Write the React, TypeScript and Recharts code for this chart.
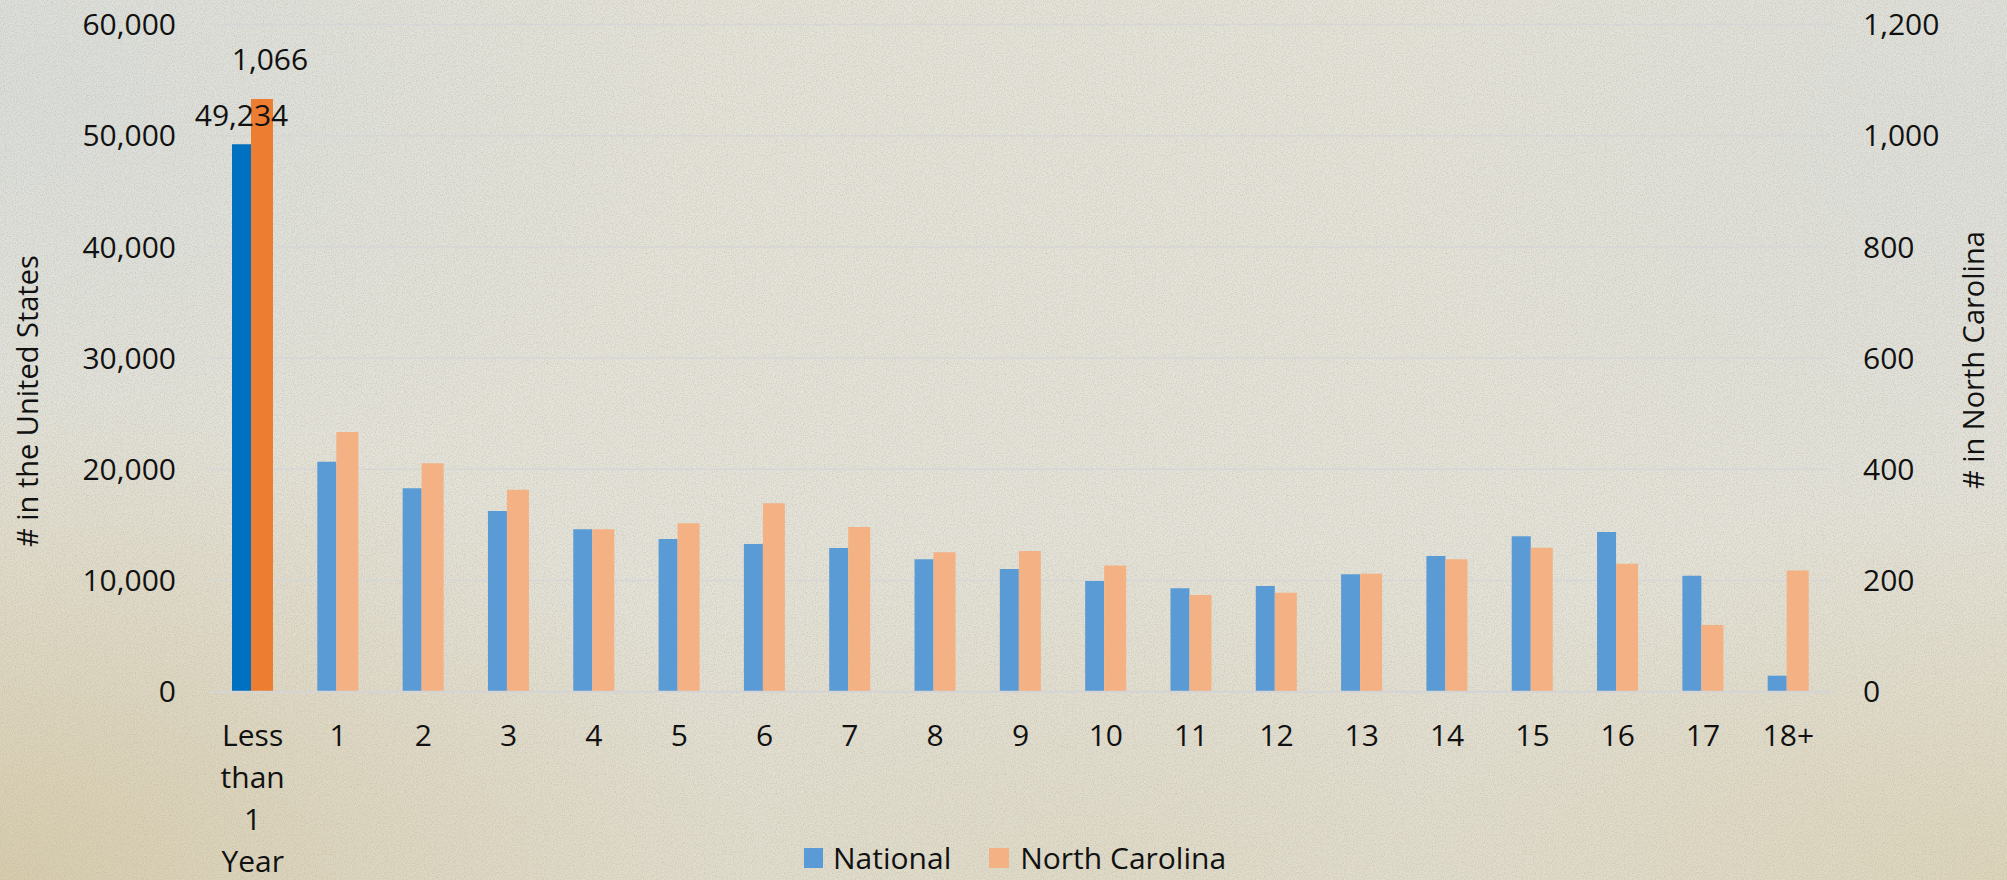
import React from 'react';
import {
  BarChart,
  Bar,
  XAxis,
  YAxis,
  CartesianGrid,
  Legend,
  LabelList,
  Cell,
} from 'recharts';

// Years of age categories
const categories = [
  'Less than 1 Year', '1', '2', '3', '4', '5', '6', '7', '8', '9',
  '10', '11', '12', '13', '14', '15', '16', '17', '18+',
];

// Children in foster care by age — United States (left axis)
const national = [
  49234, 20680, 18290, 16250, 14600, 13730, 13280, 12920, 11900, 11030,
  9950, 9300, 9500, 10560, 12200, 13970, 14360, 10430, 1440,
];

// Children in foster care by age — North Carolina (right axis)
const northCarolina = [
  1066, 467, 411, 363, 292, 303, 339, 296, 251, 253,
  227, 174, 178, 212, 238, 259, 230, 120, 218,
];

const leftTicks = [0, 10000, 20000, 30000, 40000, 50000, 60000];
const rightTicks = [0, 200, 400, 600, 800, 1000, 1200];

const seriesNames = { national: 'National', nc: 'North Carolina' };

const COLORS = {
  nationalHighlight: '#0070C0',
  ncHighlight: '#ED7D31',
  national: '#5B9BD5',
  nc: '#F4B183',
};

const FONT = "'Open Sans', 'Noto Sans', sans-serif";
const TEXT = '#111111';
const W = 2007;
const H = 880;

const data = categories.map((age, i) => ({
  age,
  national: national[i],
  nc: northCarolina[i],
}));

const fmt = (v: number) => v.toLocaleString('en-US');

// Fine paper grain laid over the background tint
const grain =
  "url(\"data:image/svg+xml;utf8," +
  "<svg xmlns='http://www.w3.org/2000/svg' width='400' height='400'>" +
  "<filter id='n'><feTurbulence type='fractalNoise' baseFrequency='0.9' numOctaves='2' stitchTiles='stitch'/>" +
  "<feColorMatrix values='0 0 0 0 0.45  0 0 0 0 0.40  0 0 0 0 0.30  0 0 0 0.9 -0.35'/></filter>" +
  "<rect width='400' height='400' filter='url(%23n)'/></svg>\")";

// Category tick: wraps the long first label one word per line
const AgeTick = (props: any) => {
  const { x, y, payload } = props;
  const words = String(payload.value).split(' ');
  return (
    <text
      x={x}
      y={y}
      textAnchor="middle"
      fontFamily={FONT}
      fontSize={30}
      fill={TEXT}
    >
      {words.map((w, i) => (
        <tspan key={i} x={x} dy={i === 0 ? 46 : 42}>
          {w}
        </tspan>
      ))}
    </text>
  );
};

const makeTitle = (text: string, dxFromAxis: number, dyFromCenter: number) =>
  (props: any) => {
    const vb = props.viewBox || {};
    const x = vb.x + dxFromAxis;
    const y = vb.y + vb.height / 2 + dyFromCenter;
    return (
      <text
        x={x}
        y={y}
        transform={`rotate(-90 ${x} ${y})`}
        textAnchor="middle"
        dominantBaseline="central"
        fontFamily={FONT}
        fontSize={29}
        fill={TEXT}
      >
        {text}
      </text>
    );
  };

// Value labels shown only on the first age group
const makeValueLabel = (lift: number, shift: number) => (props: any) => {
  const { x, y, width, value, index } = props;
  if (index !== 0) return null;
  return (
    <text
      x={Number(x) + Number(width) / 2 + shift}
      y={Number(y) - lift}
      textAnchor="middle"
      fontFamily={FONT}
      fontSize={30}
      fill={TEXT}
    >
      {fmt(Number(value))}
    </text>
  );
};

const LegendContent = () => (
  <div
    style={{
      display: 'flex',
      alignItems: 'center',
      height: 36,
      fontFamily: FONT,
      fontSize: 30,
      lineHeight: '32px',
      color: TEXT,
      whiteSpace: 'nowrap',
    }}
  >
    <span style={{ display: 'inline-block', width: 19, height: 20, background: COLORS.national, marginRight: 10 }} />
    <span style={{ marginRight: 38 }}>{seriesNames.national}</span>
    <span style={{ display: 'inline-block', width: 20, height: 20, background: COLORS.nc, marginRight: 11 }} />
    <span>{seriesNames.nc}</span>
  </div>
);

export default function App() {
  return (
    <div
      style={{
        position: 'absolute',
        left: 0,
        top: 0,
        width: W,
        height: H,
        overflow: 'hidden',
        backgroundColor: '#e5e4db',
        backgroundImage: [
          grain,
          'radial-gradient(ellipse 38% 55% at 0% 100%, rgba(205,185,135,0.55), rgba(205,185,135,0) 100%)',
          'radial-gradient(ellipse 30% 45% at 100% 100%, rgba(212,196,150,0.45), rgba(212,196,150,0) 100%)',
          'radial-gradient(ellipse 45% 40% at 55% 100%, rgba(214,202,165,0.35), rgba(214,202,165,0) 100%)',
          'radial-gradient(ellipse 35% 50% at 0% 10%, rgba(212,220,222,0.6), rgba(212,220,222,0) 100%)',
          'radial-gradient(ellipse 30% 50% at 100% 15%, rgba(214,220,222,0.5), rgba(214,220,222,0) 100%)',
        ].join(', '),
      }}
    >
      <BarChart
        width={W}
        height={H}
        data={data}
        margin={{ top: 24.5, right: 0, bottom: 38.3, left: 0 }}
        barCategoryGap="26%"
        barGap={0}
      >
        <CartesianGrid
          yAxisId="us"
          vertical={false}
          stroke="#d6d6d6"
          strokeWidth={1.5}
        />
        <XAxis
          dataKey="age"
          height={150}
          tick={<AgeTick />}
          tickLine={false}
          axisLine={{ stroke: '#d4d4d4', strokeWidth: 2 }}
          interval={0}
        />
        <YAxis
          yAxisId="us"
          orientation="left"
          width={210}
          domain={[0, 60000]}
          ticks={leftTicks}
          tickFormatter={fmt}
          tickLine={false}
          axisLine={false}
          tickSize={0}
          tick={{ fontFamily: FONT, fontSize: 30, fill: TEXT }}
          tickMargin={34}
          label={makeTitle('# in the United States', 27, 43)}
        />
        <YAxis
          yAxisId="nc"
          orientation="right"
          width={176}
          domain={[0, 1200]}
          ticks={rightTicks}
          tickFormatter={fmt}
          tickLine={false}
          axisLine={false}
          tickSize={0}
          tick={{ fontFamily: FONT, fontSize: 30, fill: TEXT }}
          tickMargin={32}
          label={makeTitle('# in North Carolina', 142, 2)}
        />
        <Legend
          layout="horizontal"
          align="center"
          verticalAlign="middle"
          content={<LegendContent />}
          wrapperStyle={{ top: 840, left: 804, width: 460, height: 36 }}
        />
        <Bar
          yAxisId="us"
          dataKey="national"
          name={seriesNames.national}
          fill={COLORS.national}
          barSize={19}
          isAnimationActive={false}
        >
          {data.map((_, i) => (
            <Cell key={i} fill={i === 0 ? COLORS.nationalHighlight : COLORS.national} />
          ))}
          <LabelList dataKey="national" content={makeValueLabel(18, 0)} />
        </Bar>
        <Bar
          yAxisId="nc"
          dataKey="nc"
          name={seriesNames.nc}
          fill={COLORS.nc}
          barSize={22}
          isAnimationActive={false}
        >
          {data.map((_, i) => (
            <Cell key={i} fill={i === 0 ? COLORS.ncHighlight : COLORS.nc} />
          ))}
          <LabelList dataKey="nc" content={makeValueLabel(29, 8)} />
        </Bar>
      </BarChart>
    </div>
  );
}
